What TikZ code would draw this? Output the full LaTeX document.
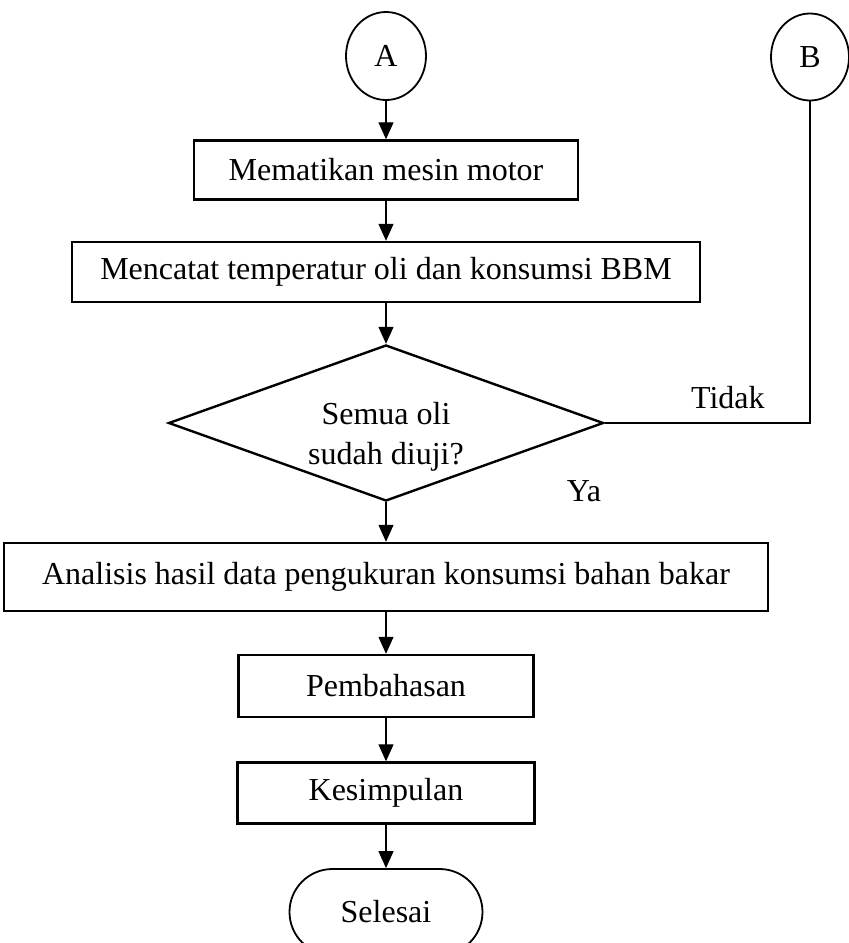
\documentclass[tikz,border=0pt]{standalone}
\usepackage{fontspec}
\setmainfont{Liberation Serif}
\usepackage{tikz}
\usetikzlibrary{shapes.geometric,arrows.meta,calc}
\tikzstyle{proses} = [rectangle, draw, line width=2.4pt, text centered, sharp corners, %
inner sep=0pt, node distance=110pt]
\tikzstyle{konektor} = [ellipse, draw, line width=1.8pt, minimum width=80pt, minimum height=88pt, inner sep=0pt]
\tikzstyle{keputusan} = [diamond, draw, line width=2.4pt, align=center, inner sep=0pt, aspect=2.8, %
minimum width=435pt, minimum height=156pt]
\tikzstyle{terminal} = [rectangle, draw, line width=1.8pt, rounded corners=43pt, %
minimum width=193pt, minimum height=86pt]
\tikzstyle{arrow} = [draw, line width=1.2pt, -{Triangle[length=17pt,width=15pt]}]

\begin{document}
\begin{tikzpicture}[x=1pt, y=1pt, auto, font=\fontsize{32}{40}\selectfont]
    \useasboundingbox (0,0) rectangle (849,-943);
    \node[konektor] (A) at (386,-56) {A};
    \node[konektor, minimum width=78pt, minimum height=87pt] (B) at (810,-57) {B};
    \node[proses, below of=A, node distance=114pt, minimum width=384pt, minimum height=59pt] (mesin) {Mematikan mesin motor};
    \node[proses, below of=mesin, node distance=102pt, minimum width=628pt, minimum height=60pt] (catat) {Mencatat temperatur oli dan konsumsi BBM};
    \node[keputusan, below of=catat, node distance=151pt, text height=82pt, text depth=0pt] (cek) {Semua oli\\sudah diuji?};
    \node[proses, below of=cek, node distance=154pt, minimum width=764pt, minimum height=68pt] (analisis) {Analisis hasil data pengukuran konsumsi bahan bakar};
    \node[proses, below of=analisis, node distance=109pt, minimum width=295pt, minimum height=62pt] (bahas) {Pembahasan};
    \node[proses, below of=bahas, node distance=107pt, minimum width=297pt, minimum height=61pt] (simpul) {Kesimpulan};
    \node[terminal, below of=simpul, node distance=119pt] (selesai) {Selesai};
    \node (ya) at ($(cek.south)+(198,11)$) {Ya};
    % draw arrows
    \path[arrow] (A) -- (mesin);
    \path[arrow] (mesin) -- (catat);
    \path[arrow] (catat) -- (cek);
    \path[arrow] (cek) -- (analisis);
    \path[arrow] (analisis) -- (bahas);
    \path[arrow] (bahas) -- (simpul);
    \path[arrow] (simpul) -- (selesai);
    \draw[line width=1.2pt] (cek.east) -| node[pos=0.3, above=10pt] {Tidak} (B.south);
  \end{tikzpicture}
\end{document}
